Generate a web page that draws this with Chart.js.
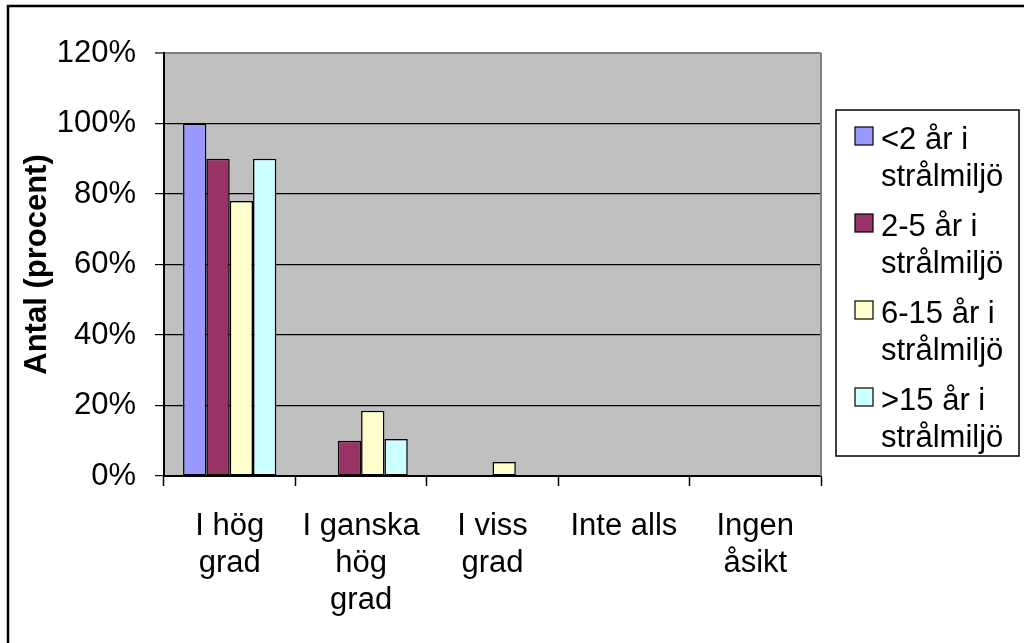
<!DOCTYPE html>
<html>
<head>
<meta charset="utf-8">
<script src="https://cdn.jsdelivr.net/npm/chart.js@4.4.1/dist/chart.umd.min.js"></script>
<style>
  html, body { margin: 0; padding: 0; background: #fff; }
  #wrap { width: 1024px; height: 643px; position: relative; }
</style>
</head>
<body>
<div id="wrap"><canvas id="c" width="1024" height="643"></canvas></div>
<script>
const categories = [["I hög", "grad"], ["I ganska", "hög", "grad"], ["I viss", "grad"], "Inte alls", ["Ingen", "åsikt"]];
const seriesNames = [["<2 år i", "strålmiljö"], ["2-5 år i", "strålmiljö"], ["6-15 år i", "strålmiljö"], [">15 år i", "strålmiljö"]];
const lessThan2 = [100, 0, 0, 0, 0];
const from2to5 = [90, 10, 0, 0, 0];
const from6to15 = [78, 18.5, 4, 0, 0];
const moreThan15 = [90, 10.5, 0, 0, 0];
const yTicks = [0, 20, 40, 60, 80, 100, 120];
const colors = ["#9999FF", "#993366", "#FFFFCC", "#CCFFFF"];
const FONT = "'Liberation Sans', Arial, sans-serif";

const seriesValues = [lessThan2, from2to5, from6to15, moreThan15];

const decor = {
  id: 'decor',
  beforeDraw(chart) {
    const ctx = chart.ctx, a = chart.chartArea;
    ctx.save();
    ctx.fillStyle = '#ffffff';
    ctx.fillRect(0, 0, chart.width, chart.height);
    ctx.fillStyle = '#C0C0C0';
    ctx.fillRect(a.left, a.top, a.right - a.left, a.bottom - a.top);
    ctx.restore();
  },
  afterDraw(chart) {
    const ctx = chart.ctx, a = chart.chartArea;
    ctx.save();
    // plot area right border (gray)
    ctx.strokeStyle = '#808080';
    ctx.lineWidth = 2;
    ctx.beginPath();
    ctx.moveTo(a.right, a.top);
    ctx.lineTo(a.right, a.bottom);
    ctx.stroke();
    // outer chart border: top and left
    ctx.strokeStyle = '#000000';
    ctx.lineWidth = 2.5;
    ctx.beginPath();
    ctx.moveTo(8, 643);
    ctx.lineTo(8, 6);
    ctx.lineTo(1024, 6);
    ctx.stroke();
    // legend
    const lx = 836, ly = 110, lw = 183, lh = 346;
    ctx.fillStyle = '#ffffff';
    ctx.fillRect(lx, ly, lw, lh);
    ctx.strokeStyle = '#000000';
    ctx.lineWidth = 1.5;
    ctx.strokeRect(lx, ly, lw, lh);
    ctx.font = '31px ' + FONT;
    ctx.textBaseline = 'alphabetic';
    ctx.textAlign = 'left';
    chart.data.datasets.forEach((ds, i) => {
      const top = 127 + i * 87;
      ctx.fillStyle = ds.backgroundColor;
      ctx.fillRect(855, top, 18, 18);
      ctx.strokeStyle = '#000000';
      ctx.lineWidth = 1.2;
      ctx.strokeRect(855, top, 18, 18);
      ctx.fillStyle = '#000000';
      const lines = seriesNames[i];
      ctx.fillText(lines[0], 881, top + 22);
      ctx.fillText(lines[1], 881, top + 59);
    });
    ctx.restore();
  }
};

new Chart(document.getElementById('c'), {
  type: 'bar',
  data: {
    labels: categories,
    datasets: seriesValues.map((vals, i) => ({
      label: seriesNames[i].join(' '),
      data: vals,
      backgroundColor: colors[i],
      borderColor: '#000000',
      borderWidth: 1.5,
      borderSkipped: false,
      barPercentage: 1.0,
      categoryPercentage: 0.71
    }))
  },
  options: {
    responsive: false,
    devicePixelRatio: 1,
    animation: false,
    layout: { padding: { left: 0, top: 53, right: 203, bottom: 0 } },
    plugins: {
      legend: { display: false },
      tooltip: { enabled: false },
      title: { display: false }
    },
    scales: {
      x: {
        offset: true,
        grid: {
          offset: true,
          drawOnChartArea: false,
          drawTicks: true,
          tickLength: 10,
          tickColor: '#000000',
          tickWidth: 1.5
        },
        border: { display: true, color: '#000000', width: 2 },
        ticks: {
          color: '#000000',
          font: { family: FONT, size: 31, lineHeight: 1.194 },
          padding: 22,
          maxRotation: 0,
          minRotation: 0,
          autoSkip: false
        },
        afterFit(scale) { scale.height = 167; }
      },
      y: {
        min: 0,
        max: 120,
        afterBuildTicks(scale) { scale.ticks = yTicks.map(v => ({ value: v })); },
        grid: {
          color: (c) => (c.tick && c.tick.value === 120) ? '#808080' : '#000000',
          lineWidth: (c) => (c.tick && c.tick.value === 120) ? 2 : 1.2,
          drawTicks: true,
          tickLength: 9,
          tickColor: '#000000',
          tickWidth: 1.2
        },
        border: { display: true, color: '#000000', width: 2 },
        ticks: {
          color: '#000000',
          font: { family: FONT, size: 31 },
          padding: 19,
          callback: (v) => v + '%'
        },
        title: {
          display: true,
          text: 'Antal (procent)',
          color: '#000000',
          font: { family: FONT, size: 31, weight: 'bold', lineHeight: 1.2 },
          padding: { top: 19, bottom: 0 }
        },
        afterFit(scale) { scale.width = 164; }
      }
    }
  },
  plugins: [decor]
});
</script>
</body>
</html>
